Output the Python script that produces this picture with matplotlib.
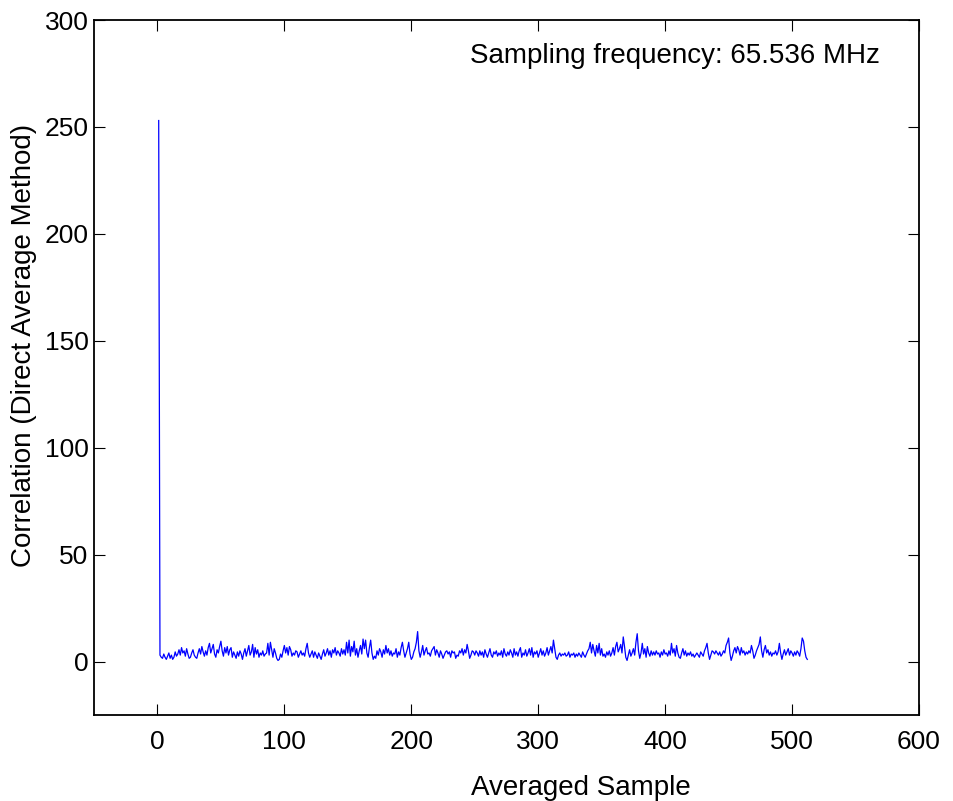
import numpy as np
import matplotlib.pyplot as plt

plt.rcParams['font.family'] = ['Liberation Sans', 'DejaVu Sans']

# correlation values, sample 1..512
corr = [
    253, 3.0, 2.0, 1.5, 3.5, 2.0, 1.0, 2.5, 4.0, 1.5,
    3.0, 1.0, 2.0, 4.5, 2.5, 3.5, 5.5, 3.0, 6.5, 4.0,
    5.0, 2.5, 6.0, 3.5, 1.5, 2.0, 4.0, 5.5, 3.0, 2.0,
    1.5, 4.0, 6.0, 3.5, 7.0, 4.5, 2.5, 5.0, 3.0, 6.5,
    8.5, 4.0, 6.0, 8.0, 3.5, 2.0, 5.5, 4.0, 7.0, 9.5,
    5.0, 2.5, 6.5, 4.0, 7.0, 3.0, 5.5, 6.5, 2.0, 4.5,
    3.0, 1.5, 4.5, 2.5, 5.0, 3.5, 1.0, 4.0, 6.0, 2.5,
    5.0, 7.5, 3.0, 4.5, 8.0, 2.0, 6.5, 3.5, 5.5, 2.0,
    4.0, 3.0, 5.0, 2.5, 3.5, 4.0, 8.5, 3.0, 9.0, 5.5,
    2.0, 6.0, 4.0, 1.5, 0.5, 1.0, 3.5, 2.0, 5.0, 7.5,
    4.0, 6.5, 3.0, 7.0, 5.5, 2.5, 4.0, 3.0, 5.0, 4.5,
    2.0, 3.5, 5.0, 3.0, 4.0, 2.5, 6.0, 8.5, 4.0, 2.0,
    3.5, 5.0, 2.0, 4.5, 3.0, 1.5, 4.0, 2.5, 1.0, 3.5,
    5.5, 2.5, 4.0, 6.0, 3.0, 5.0, 2.0, 5.5, 4.0, 6.5,
    3.0, 5.0, 4.0, 2.5, 6.0, 3.5, 5.5, 3.0, 9.0, 4.0,
    10.0, 2.5, 7.0, 4.5, 9.5, 3.0, 6.0, 2.0, 5.0, 7.5,
    3.5, 10.5, 6.0, 10.0, 4.0, 2.0, 6.5, 10.0, 4.0, 1.0,
    2.5, 1.5, 5.0, 3.0, 6.0, 4.5, 2.0, 5.5, 3.5, 7.5,
    4.0, 6.0, 3.0, 5.0, 2.5, 4.0, 3.5, 6.0, 2.0, 4.5,
    3.0, 6.5, 9.0, 5.0, 2.0, 4.0, 6.0, 9.0, 3.5, 1.0,
    2.0, 4.5, 6.0, 9.0, 14.0, 5.0, 2.0, 4.5, 7.5, 3.0,
    5.0, 6.5, 3.5, 4.0, 2.5, 5.0, 6.0, 7.0, 3.0, 5.5,
    4.0, 2.0, 5.0, 3.5, 1.5, 3.0, 4.5, 5.0, 3.5, 4.5,
    2.0, 5.0, 4.0, 4.5, 1.5, 3.0, 2.5, 5.0, 4.0, 6.0,
    3.0, 5.5, 4.0, 8.0, 5.0, 1.5, 3.0, 5.0, 4.5, 3.0,
    5.0, 4.0, 2.5, 5.0, 3.0, 4.5, 2.0, 5.5, 3.5, 2.0,
    4.0, 6.0, 3.0, 2.0, 4.5, 3.5, 5.0, 2.5, 4.0, 3.0,
    5.0, 2.0, 6.0, 3.5, 2.5, 4.5, 3.0, 5.5, 4.0, 2.0,
    6.0, 3.0, 4.5, 2.5, 5.0, 6.5, 2.0, 4.0, 3.0, 5.5,
    2.5, 4.0, 6.0, 3.0, 6.5, 2.0, 4.5, 3.5, 5.0, 2.0,
    4.0, 6.0, 3.0, 5.0, 2.5, 4.0, 6.5, 3.0, 5.0, 7.0,
    4.0, 10.0, 6.0, 2.0, 1.0, 3.0, 4.0, 2.5, 3.5, 3.0,
    4.0, 2.5, 3.0, 4.5, 2.0, 3.5, 3.0, 4.0, 2.0, 3.5,
    2.5, 4.0, 3.0, 2.0, 4.5, 3.0, 2.0, 3.5, 5.0, 6.0,
    9.0, 4.0, 8.0, 5.0, 2.5, 7.5, 4.0, 8.5, 3.0, 6.0,
    2.5, 3.5, 2.0, 4.5, 3.0, 5.0, 2.5, 4.0, 6.5, 3.0,
    7.0, 9.0, 4.5, 6.0, 8.0, 4.0, 11.5, 7.0, 2.0, 0.5,
    3.0, 5.5, 2.5, 4.0, 6.0, 3.0, 9.0, 13.0, 5.0, 1.5,
    4.0, 8.5, 3.5, 6.0, 2.0, 7.0, 4.0, 2.5, 5.0, 3.0,
    4.5, 3.0, 5.0, 3.5, 4.0, 2.0, 4.5, 3.0, 5.5, 3.5,
    4.0, 2.5, 5.0, 3.0, 8.5, 4.0, 6.0, 2.5, 7.5, 4.0,
    2.0, 1.5, 4.0, 6.0, 3.0, 5.0, 2.5, 4.0, 3.0, 4.5,
    2.5, 3.5, 2.0, 3.0, 4.0, 3.0, 2.0, 4.5, 3.5, 2.5,
    5.0, 6.5, 8.5, 4.0, 1.0, 3.0, 5.0, 4.5, 3.5, 5.0,
    4.0, 3.0, 4.5, 2.5, 3.5, 5.0, 4.0, 7.5, 9.0, 11.0,
    4.0, 0.5, 2.5, 5.0, 6.5, 4.0, 7.0, 5.5, 3.0, 6.5,
    4.0, 5.0, 3.0, 4.5, 3.5, 5.0, 4.0, 7.5, 5.0, 1.5,
    3.0, 5.0, 6.5, 8.0, 11.5, 5.0, 2.0, 5.5, 7.5, 4.0,
    5.5, 3.0, 4.5, 2.5, 4.0, 3.5, 5.0, 3.0, 4.5, 8.5,
    4.0, 1.0, 3.5, 5.5, 3.0, 4.5, 6.0, 3.0, 5.0, 4.0,
    2.5, 4.5, 3.0, 5.0, 4.0, 2.5, 6.0, 11.0, 9.5, 5.0,
    2.0, 1.0,
]
sample = np.arange(1, len(corr) + 1)

fig = plt.figure(figsize=(9.54, 8.01), dpi=100)
ax = fig.add_axes([0.0985, 0.1074, 0.8648, 0.8676])

ax.plot(sample, corr, color=(0, 0, 1), linewidth=0.9)

ax.set_xlim(-50, 600)
ax.set_ylim(-25, 300)
ax.set_xticks(np.arange(0, 601, 100))
ax.set_yticks(np.arange(0, 301, 50))
ax.tick_params(direction='in', length=8, width=0.8, top=True, right=True,
               labelsize=19)
ax.tick_params(axis='x', pad=11)
ax.tick_params(axis='y', pad=4)
for s in ax.spines.values():
    s.set_linewidth(1.3)

ax.set_xlabel('Averaged Sample', fontsize=20)
ax.set_ylabel('Correlation (Direct Average Method)', fontsize=20)
# labels sit where the original put them (x label is off centre)
ax.xaxis.set_label_coords(0.590, -0.087)
ax.yaxis.set_label_coords(-0.069, 0.532)
ax.text(569.5, 283, 'Sampling frequency: 65.536 MHz', fontsize=20,
        ha='right', va='center')

fig.savefig('out.png', dpi=100)
